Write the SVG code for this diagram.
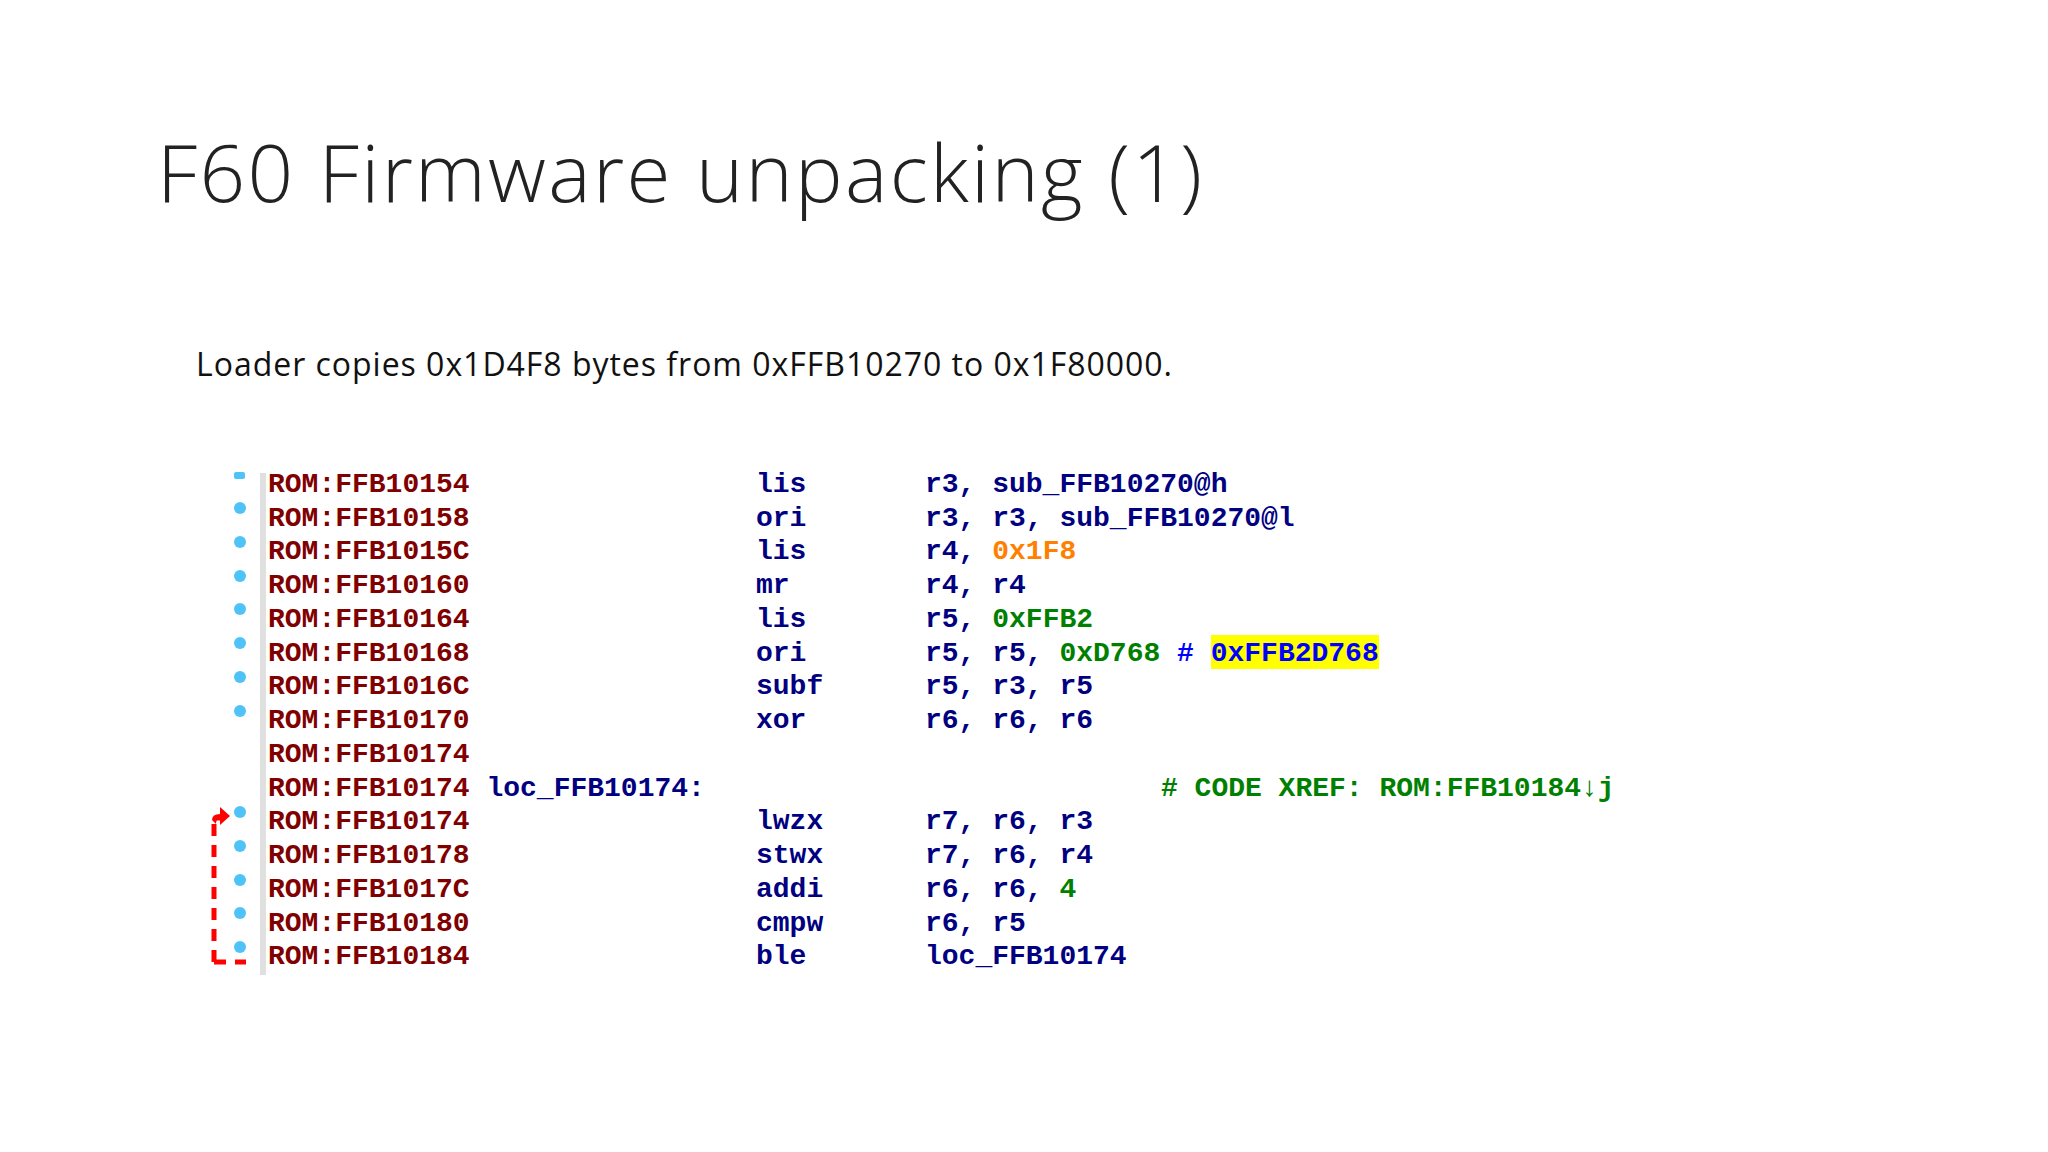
<svg xmlns="http://www.w3.org/2000/svg" width="2048" height="1152" viewBox="0 0 2048 1152">
<style>
.c{font-family:"Liberation Mono","DejaVu Sans Mono",monospace;font-size:28px;font-weight:bold}
.a{fill:#800000}.m{fill:#000080}.g{fill:#008000}.o{fill:#ff8000}.b{fill:#0000ff}
.d{fill:#4fc3f7}
</style>
<rect width="2048" height="1152" fill="#fff"/>
<g id="title"><text x="157" y="202" font-family="'Open Sans','Liberation Sans',sans-serif" font-weight="300" font-size="80" fill="#222" textLength="1045">F60 Firmware unpacking (1)</text></g>
<g id="subtitle"><text x="196" y="376" font-family="'Open Sans','Liberation Sans',sans-serif" font-size="32" fill="#111" textLength="976">Loader copies 0x1D4F8 bytes from 0xFFB10270  to 0x1F80000.</text></g>
<g id="listing">
<rect x="260" y="473" width="6" height="502" fill="#e0e0e0"/>
<rect x="1211" y="635" width="168" height="34" fill="#ffff00"/>
<g class="c">
<text x="268" y="492" class="a">ROM:FFB10154</text><text x="756" y="492" class="m">lis</text><text x="925" y="492" class="m">r3, sub_FFB10270@h</text>
<text x="268" y="526" class="a">ROM:FFB10158</text><text x="756" y="526" class="m">ori</text><text x="925" y="526" class="m">r3, r3, sub_FFB10270@l</text>
<text x="268" y="559" class="a">ROM:FFB1015C</text><text x="756" y="559" class="m">lis</text><text x="925" y="559" class="m">r4, <tspan class="o">0x1F8</tspan></text>
<text x="268" y="593" class="a">ROM:FFB10160</text><text x="756" y="593" class="m">mr</text><text x="925" y="593" class="m">r4, r4</text>
<text x="268" y="627" class="a">ROM:FFB10164</text><text x="756" y="627" class="m">lis</text><text x="925" y="627" class="m">r5, <tspan class="g">0xFFB2</tspan></text>
<text x="268" y="661" class="a">ROM:FFB10168</text><text x="756" y="661" class="m">ori</text><text x="925" y="661" class="m">r5, r5, <tspan class="g">0xD768</tspan> <tspan class="b"># 0xFFB2D768</tspan></text>
<text x="268" y="694" class="a">ROM:FFB1016C</text><text x="756" y="694" class="m">subf</text><text x="925" y="694" class="m">r5, r3, r5</text>
<text x="268" y="728" class="a">ROM:FFB10170</text><text x="756" y="728" class="m">xor</text><text x="925" y="728" class="m">r6, r6, r6</text>
<text x="268" y="762" class="a">ROM:FFB10174</text>
<text x="268" y="796" class="a">ROM:FFB10174 <tspan class="m">loc_FFB10174:</tspan></text><text x="1161" y="796" class="g"># CODE XREF: ROM:FFB10184↓j</text>
<text x="268" y="829" class="a">ROM:FFB10174</text><text x="756" y="829" class="m">lwzx</text><text x="925" y="829" class="m">r7, r6, r3</text>
<text x="268" y="863" class="a">ROM:FFB10178</text><text x="756" y="863" class="m">stwx</text><text x="925" y="863" class="m">r7, r6, r4</text>
<text x="268" y="897" class="a">ROM:FFB1017C</text><text x="756" y="897" class="m">addi</text><text x="925" y="897" class="m">r6, r6, <tspan class="g">4</tspan></text>
<text x="268" y="931" class="a">ROM:FFB10180</text><text x="756" y="931" class="m">cmpw</text><text x="925" y="931" class="m">r6, r5</text>
<text x="268" y="964" class="a">ROM:FFB10184</text><text x="756" y="964" class="m">ble</text><text x="925" y="964" class="m">loc_FFB10174</text>
</g>
<g>
<rect x="234" y="472" width="11" height="7" rx="2" class="d"/>
<circle cx="240" cy="508" r="6" class="d"/><circle cx="240" cy="542" r="6" class="d"/><circle cx="240" cy="576" r="6" class="d"/>
<circle cx="240" cy="609" r="6" class="d"/><circle cx="240" cy="643" r="6" class="d"/><circle cx="240" cy="677" r="6" class="d"/>
<circle cx="240" cy="711" r="6" class="d"/>
<circle cx="240" cy="812" r="6" class="d"/><circle cx="240" cy="846" r="6" class="d"/><circle cx="240" cy="880" r="6" class="d"/>
<circle cx="240" cy="913" r="6" class="d"/><circle cx="240" cy="947" r="6" class="d"/>
</g>
</g>
<g id="connectors">
<path d="M214 962 V818 H222" fill="none" stroke="#ff0000" stroke-width="5" stroke-dasharray="12 9"/>
<path d="M214 962 H246" fill="none" stroke="#ff0000" stroke-width="5" stroke-dasharray="12 9"/>
<path d="M212 820 Q212 814 220 814 V807 L230 816 L220 825 V819 Q216 819 216 824 Z" fill="#ff0000"/>
</g>
</svg>
